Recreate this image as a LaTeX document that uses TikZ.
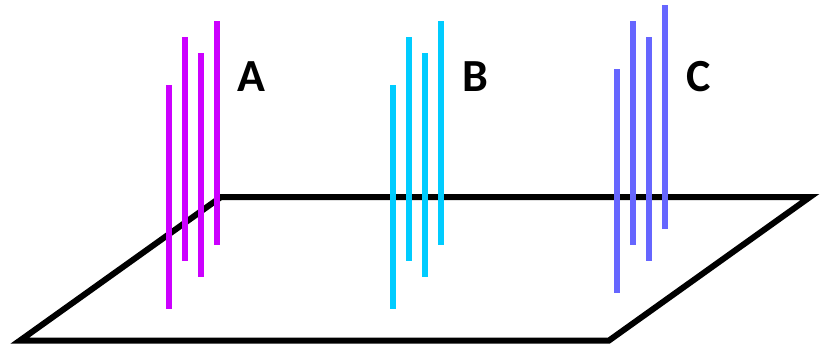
\documentclass[tikz,border=0pt]{standalone}
\usepackage{fontspec}
\setsansfont{Carlito}
\definecolor{rodA}{RGB}{204,0,255}
\definecolor{rodB}{RGB}{0,204,255}
\definecolor{rodC}{RGB}{102,102,255}
\begin{document}
\begin{tikzpicture}[
		x=1pt,y=-1pt,
		plane/.style={draw=black,line width=6pt,line join=miter},
		rod/.style={line width=5.5pt},
		tag/.style={font=\sffamily\bfseries\fontsize{46}{46}\selectfont,inner sep=0pt}
	]
	\useasboundingbox (0,0) rectangle (821,346);
	% the plane
	\coordinate (p1) at (20,340.5);
	\coordinate (p2) at (221,197);
	\coordinate (p3) at (810,197);
	\coordinate (p4) at (609,340.5);
	\draw[plane] (p1) -- (p2) -- (p3) -- (p4) -- cycle;
	% three bundles of rods, each with its letter
	\foreach \name/\x/\y/\col in {A/169/21/rodA, B/393/21/rodB, C/617/5/rodC} {
		\foreach \dx/\dy in {0/64,16/16,32/32,48/0}
			\draw[rod,\col] (\x+\dx,\y+\dy) -- ++(0,224);
		\node[tag] (\name) at (\x+82,77) {\name};
	}
\end{tikzpicture}
\end{document}
